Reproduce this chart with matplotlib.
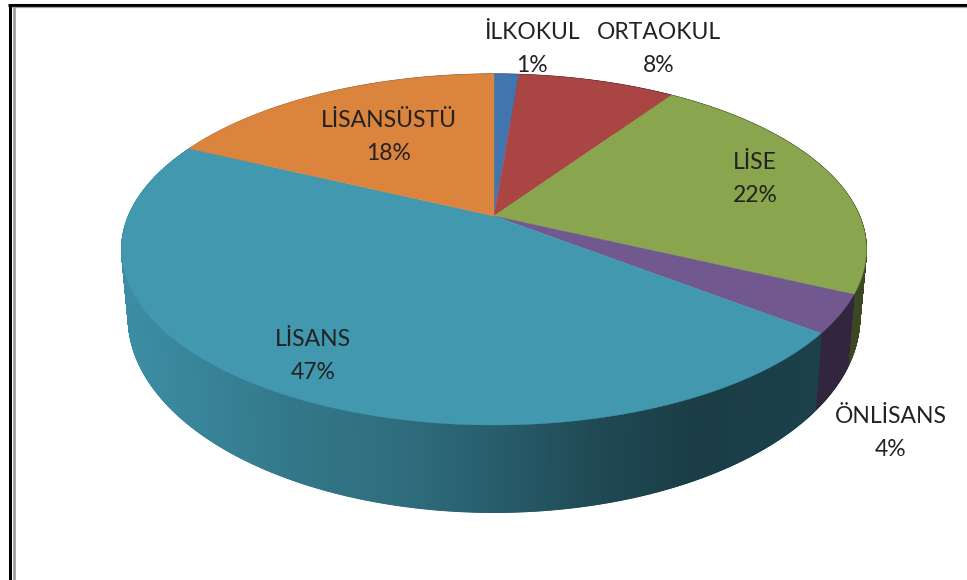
import numpy as np
import matplotlib
matplotlib.use('Agg')
import matplotlib.pyplot as plt

# values (slices run clockwise from 12 o'clock)
categories = ['İLKOKUL', 'ORTAOKUL', 'LİSE', 'ÖNLİSANS', 'LİSANS', 'LİSANSÜSTÜ']
values = [1.3, 8.2, 22.5, 3.5, 46.6, 17.9]
pct_labels = ['1%', '8%', '22%', '4%', '47%', '18%']
colors = ['#4274AE', '#A94543', '#89A54E', '#71588F', '#4198AF', '#DB843D']
label_pos = [(532, 49), (659, 49), (755, 179), (891, 433), (313, 356), (389, 137)]

# perspective of the pie: centre, half widths, top and bottom disc
CX = 494
K = 0.191
TOP_Y, TOP_A, TOP_B = 216, 365.5, 169.1
BOT_Y, BOT_A, BOT_B = 280, 359, 188

# how dark the side wall is along x
shade_x = [130, 300, 400, 490, 600, 700, 870]
shade_f = [0.93, 0.78, 0.72, 0.62, 0.48, 0.40, 0.44]


def project(theta, cy, a, b):
    u, v = np.sin(theta), np.cos(theta)
    d = 1 + K * v
    return CX + a * u / d, cy - b * v / d


def shade(color, x):
    f = np.interp(x, shade_x, shade_f)
    return tuple(c * f for c in matplotlib.colors.to_rgb(color))


fig = plt.figure(figsize=(9.67, 5.8), dpi=100)
ax = fig.add_axes([0, 0, 1, 1])
ax.set_xlim(0, 967)
ax.set_ylim(580, 0)
ax.axis('off')

edges = np.cumsum([0] + values) / 100 * 2 * np.pi

# side wall, far pieces first
pieces = []
for i, col in enumerate(colors):
    n = max(int(values[i] * 30), 6)
    th = np.linspace(edges[i], edges[i + 1], n + 1)
    for t0, t1 in zip(th[:-1], th[1:]):
        pieces.append((np.cos((t0 + t1) / 2), t0, t1, col))
pieces.sort(key=lambda p: -p[0])

for _, t0, t1, col in pieces:
    x0, y0 = project(t0, TOP_Y, TOP_A, TOP_B)
    x1, y1 = project(t1, TOP_Y, TOP_A, TOP_B)
    x2, y2 = project(t1, BOT_Y, BOT_A, BOT_B)
    x3, y3 = project(t0, BOT_Y, BOT_A, BOT_B)
    c = shade(col, (x0 + x1) / 2)
    ax.fill([x0, x1, x2, x3], [y0, y1, y2, y3], color=c, lw=0.8, zorder=2)

# top face
for i, col in enumerate(colors):
    th = np.linspace(edges[i], edges[i + 1], 200)
    x, y = project(th, TOP_Y, TOP_A, TOP_B)
    ax.fill(np.r_[CX, x], np.r_[TOP_Y, y], color=col, lw=0.3, zorder=3)

# labels
font = ['Lato', 'DejaVu Sans']
for name, pct, (lx, ly) in zip(categories, pct_labels, label_pos):
    ax.text(lx, ly, name + '\n' + pct, ha='center', va='center', fontsize=16.5,
            family=font, color='#222222', linespacing=1.7, zorder=5)

# frame of the screenshot
ax.plot([9.5, 9.5], [580, 4.5], color='black', lw=2.2, solid_capstyle='butt', zorder=6)
ax.plot([8.4, 967], [4.5, 4.5], color='black', lw=2.2, solid_capstyle='butt', zorder=6)
ax.plot([13.5, 13.5], [580, 6.5], color='#a0a0a0', lw=2.0, solid_capstyle='butt', zorder=6)
ax.plot([12, 967], [6.8, 6.8], color='#a0a0a0', lw=0.9, solid_capstyle='butt', zorder=6)

fig.savefig('out.png', dpi=100)
